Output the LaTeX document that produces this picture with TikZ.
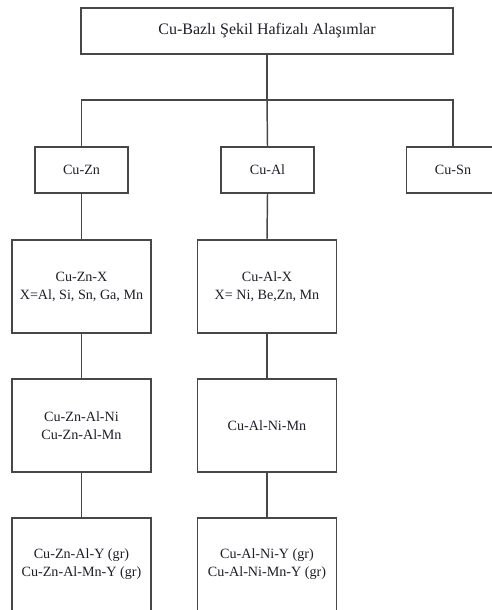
\documentclass[tikz,border=0pt]{standalone}
\usepackage{fontspec}
\setmainfont{Liberation Serif}
\definecolor{linec}{HTML}{474747}
\definecolor{textc}{HTML}{1E1E28}
\begin{document}
\begin{tikzpicture}[x=0.75pt,y=-0.75pt,
  box/.style={draw=linec,line width=1.1pt,fill=white,inner sep=0pt,align=center,
    text=textc,font=\fontsize{10.6}{13.5}\selectfont},
  small/.style={box,minimum width=69.75pt,minimum height=34.5pt},
  big/.style={box,minimum width=104.5pt,minimum height=69.75pt},
  link/.style={draw=linec,line width=1.1pt}]
\useasboundingbox (0,0) rectangle (492,610);
\clip (0,0) rectangle (492,610);
\node[box,minimum width=279pt,minimum height=34.5pt,font=\fontsize{12}{14}\selectfont] (top) at (267,31) {Cu-Bazlı Şekil Hafizalı Alaşımlar};
\coordinate (bar) at (267,100);
\node[small] (zn) at (81.5,170) {Cu-Zn};
\node[small] (al) at (267.5,170) {Cu-Al};
\node[small] (sn) at (453,170) {Cu-Sn};
\node[big] (znx) at (81.5,286.5) {Cu-Zn-X\\X=Al, Si, Sn, Ga, Mn};
\node[big] (alx) at (267,286.5) {Cu-Al-X\\X= Ni, Be,Zn, Mn};
\node[big] (znalni) at (81.5,425.5) {Cu-Zn-Al-Ni\\Cu-Zn-Al-Mn};
\node[big] (alnimn) at (267,425.5) {Cu-Al-Ni-Mn};
\node[big] (zny) at (81.5,564.5) {Cu-Zn-Al-Y (gr)\\Cu-Zn-Al-Mn-Y (gr)};
\node[big] (aly) at (267,564.5) {Cu-Al-Ni-Y (gr)\\Cu-Al-Ni-Mn-Y (gr)};
\draw[link] (top.south) -- (bar);
\draw[link] (zn.north) |- (bar) -| (sn.north);
\draw[link] (bar) -- (al.north);
\draw[link] (zn.south) -- (znx.north);
\draw[link] (al.south) -- (alx.north);
\draw[link] (znx.south) -- (znalni.north);
\draw[link] (alx.south) -- (alnimn.north);
\draw[link] (znalni.south) -- (zny.north);
\draw[link] (alnimn.south) -- (aly.north);
\end{tikzpicture}
\end{document}
